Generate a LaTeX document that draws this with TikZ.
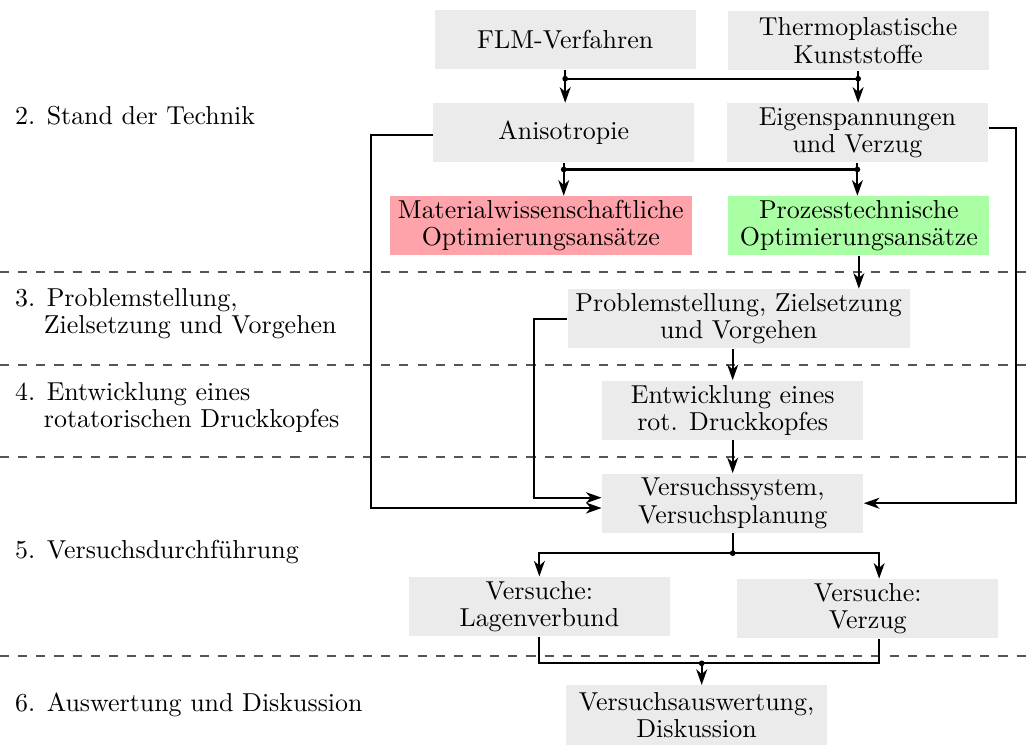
\documentclass[tikz,border=0pt]{standalone}
\usepackage{amsmath,amssymb}
\usepackage{tikz}
\usetikzlibrary{positioning,arrows.meta,calc}
\usepackage{xcolor}
\definecolor{boxgray}{HTML}{EBEBEB}
\definecolor{matred}{HTML}{FFA3AB}
\definecolor{prozgreen}{HTML}{AAFFA4}
\definecolor{sepgray}{HTML}{555555}

\begin{document}
\begin{tikzpicture}[>={Stealth[length=6pt,width=4.2pt,inset=1.8pt]}, font=\fontsize{10}{10.5}\selectfont,
    box/.style={fill=boxgray, minimum width=3.54cm, minimum height=0.8cm, inner xsep=3pt, inner ysep=1pt, align=center},
    conn/.style={thick},
    phase/.style={anchor=west, align=left, font=\fontsize{10}{10.6}\selectfont},
    sep/.style={sepgray, semithick, dash pattern=on 3.5pt off 3.5pt}]
    \useasboundingbox (0,0) rectangle (14.0,-10.1);
    % phases on the left
    \node[phase] (ph2) at (0.08,-1.57) {2. Stand der Technik};
    \node[phase] (ph3) at (0.08,-4.25) {3. Problemstellung,\\\hphantom{3.~}Zielsetzung und Vorgehen};
    \node[phase] (ph4) at (0.08,-5.52) {4. Entwicklung eines\\\hphantom{4.~}rotatorischen Druckkopfes};
    \node[phase] (ph5) at (0.08,-7.48) {5. Versuchsdurchf\"uhrung};
    \node[phase] (ph6) at (0.08,-9.55) {6. Auswertung und Diskussion};
    \draw[sep] (0,-3.69) -- (14.0,-3.69);
    \draw[sep] (0,-4.95) -- (14.0,-4.95);
    \draw[sep] (0,-6.19) -- (14.0,-6.19);
    \draw[sep] (0,-8.89) -- (14.0,-8.89);

    % boxes
    \node[box] (flm) at (7.66,-0.54) {FLM-Verfahren};
    \node[box] (thermo) at (11.63,-0.55) {Thermoplastische\\Kunststoffe};
    \node[box] (aniso) at (7.64,-1.80) {Anisotropie};
    \node[box] (eigen) at (11.62,-1.80) {Eigenspannungen\\und Verzug};
    \node[box, fill=matred] (mat) at (7.33,-3.06) {Materialwissenschaftliche\\Optimierungsans\"atze};
    \node[box, fill=prozgreen] (proz) at (11.64,-3.06) {Prozesstechnische\\Optimierungsans\"atze};
    \node[box] (prob) at (10.01,-4.32) {Problemstellung, Zielsetzung\\und Vorgehen};
    \node[box] (entw) at (9.93,-5.56) {Entwicklung eines\\rot. Druckkopfes};
    \node[box] (vsys) at (9.93,-6.82) {Versuchssystem,\\Versuchsplanung};
    \node[box] (vlag) at (7.31,-8.22) {Versuche:\\Lagenverbund};
    \node[box] (vverz) at (11.76,-8.25) {Versuche:\\Verzug};
    \node[box] (ausw) at (9.44,-9.69) {Versuchsauswertung,\\Diskussion};

    % junctions
    \coordinate (j1l) at ([yshift=-0.12cm]flm.south);
    \coordinate (j1r) at (thermo.south |- j1l);
    \coordinate (j2l) at ([yshift=-0.09cm]aniso.south);
    \coordinate (j2r) at (eigen.south |- j2l);
    \coordinate (j3) at ([yshift=-0.27cm]vsys.south);
    \coordinate (vzin) at ([xshift=0.155cm]vverz.north);
    \coordinate (vzout) at ([xshift=0.155cm]vverz.south);
    \coordinate (j4) at (9.51,-8.99);

    % connectors
    \draw[conn] (flm.south) -- (j1l) -- (j1r) -- (thermo.south);
    \draw[conn,->] (j1l) -- (j1l |- aniso.north);
    \draw[conn,->] (j1r) -- (j1r |- eigen.north);
    \draw[conn] (aniso.south) -- (j2l) -- (j2r) -- (eigen.south);
    \draw[conn,->] (j2l) -- (j2l |- mat.north);
    \draw[conn,->] (j2r) -- (j2r |- proz.north);
    \draw[conn,->] (proz.south) -- (proz.south |- prob.north);
    \draw[conn,->] (entw.north |- prob.south) -- (entw.north);
    \draw[conn,->] (entw.south) -- (vsys.north);
    \draw[conn] (vsys.south) -- (j3);
    \draw[conn,->] (j3) -| (vlag.north);
    \draw[conn,->] (j3) -| (vzin);
    \draw[conn] (vlag.south) |- (j4) -| (vzout);
    \draw[conn,->] (j4) -- (j4 |- ausw.north);
    \draw[conn,->] ([yshift=-0.03cm]aniso.west) -- ++(-0.83,0) |- ([yshift=-0.065cm]vsys.west);
    \draw[conn,->] (prob.west) -- ++(-0.45,0) |- ([yshift=0.075cm]vsys.west);
    \draw[conn,->] ([yshift=0.06cm]eigen.east) -- ++(0.37,0) |- (vsys.east);
    \foreach \j in {j1l,j1r,j2l,j2r,j3,j4}
      \fill (\j) circle (1.1pt);
  \end{tikzpicture}
\end{document}
